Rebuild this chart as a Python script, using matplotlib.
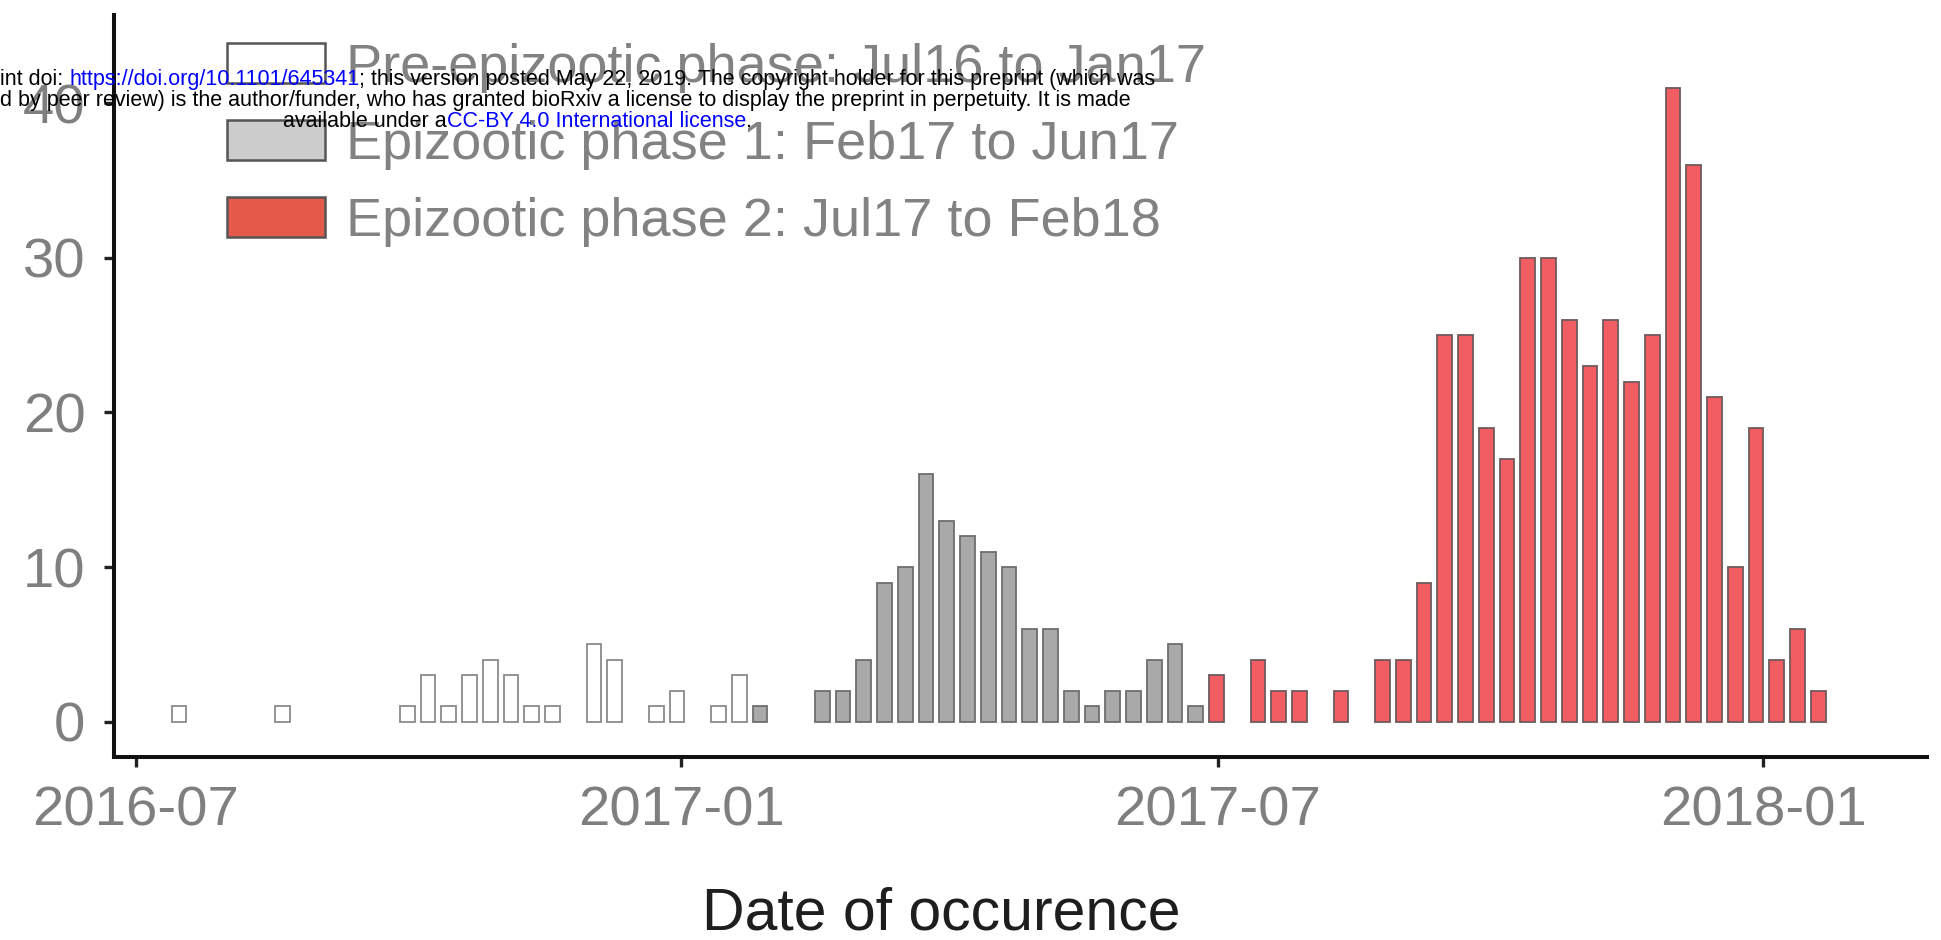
import numpy as np
import matplotlib
matplotlib.use("Agg")
import matplotlib.pyplot as plt
import matplotlib.dates as mdates
from matplotlib.patches import Patch

plt.rcParams['font.family'] = ['Liberation Sans', 'DejaVu Sans']

# ---- data: weekly case counts (week index counted from the bin centred on first_week) ----
first_week = "2016-07-15T12:00"
pre_weeks = [0, 5, 11, 12, 13, 14, 15, 16, 17, 18, 20, 21, 23, 24, 26, 27]
pre_counts = [1, 1, 1, 3, 1, 3, 4, 3, 1, 1, 5, 4, 1, 2, 1, 3]
p1_weeks = [28, 31, 32, 33, 34, 35, 36, 37, 38, 39, 40, 41, 42, 43, 44, 45, 46, 47, 48, 49]
p1_counts = [1, 2, 2, 4, 9, 10, 16, 13, 12, 11, 10, 6, 6, 2, 1, 2, 2, 4, 5, 1]
p2_weeks = [50, 52, 53, 54, 56, 58, 59, 60, 61, 62, 63, 64, 65, 66, 67, 68, 69, 70,
            71, 72, 73, 74, 75, 76, 77, 78, 79]
p2_counts = [3, 4, 2, 2, 2, 4, 4, 9, 25, 25, 19, 17, 30, 30, 26, 23, 26, 22,
             25, 41, 36, 21, 10, 19, 4, 6, 2]

legend_labels = ["Pre-epizootic phase: Jul16 to Jan17",
                 "Epizootic phase 1: Feb17 to Jun17",
                 "Epizootic phase 2: Jul17 to Feb18"]
x_ticks = ["2016-07-01", "2017-01-01", "2017-07-01", "2018-01-01"]
y_ticks = [0, 10, 20, 30, 40]
x_label = "Date of occurence"

# ---- figure ----
W, H, DPI = 1941, 940, 100
fig = plt.figure(figsize=(W / DPI, H / DPI), dpi=DPI)
fig.patch.set_facecolor('white')
ax = fig.add_axes([114 / W, 1 - 757.3 / H, (1926.7 - 114) / W, (757.3 - 15) / H])


def week_x(weeks):
    base = np.datetime64(first_week)
    d = base + np.array(weeks) * np.timedelta64(7, 'D')
    return mdates.date2num(d)


bar_w = 5.0
ax.bar(week_x(pre_weeks), pre_counts, width=bar_w, facecolor='white',
       edgecolor='#8a8a8a', linewidth=1.3, zorder=2)
ax.bar(week_x(p1_weeks), p1_counts, width=bar_w, facecolor='#a9a9a9',
       edgecolor='#6e6e6e', linewidth=1.3, zorder=2)
ax.bar(week_x(p2_weeks), p2_counts, width=bar_w, facecolor='#f25c63',
       edgecolor='#6e5a5a', linewidth=1.3, zorder=2)

x0 = mdates.date2num(np.datetime64("2016-07-01"))
x1 = mdates.date2num(np.datetime64("2018-01-01"))
ax.set_xlim(x0 - 7.4, x1 + 55.1)
ax.set_ylim(-2.3, 45.7)

ax.set_xticks(mdates.date2num(np.array(x_ticks, dtype='datetime64[D]')))
ax.xaxis.set_major_formatter(mdates.DateFormatter('%Y-%m'))
ax.set_yticks(y_ticks)

for s in ['top', 'right']:
    ax.spines[s].set_visible(False)
for s in ['left', 'bottom']:
    ax.spines[s].set_linewidth(2.9)
    ax.spines[s].set_color('#111111')

ax.tick_params(axis='both', length=7.5, width=2.4, color='#222222',
               labelsize=40.5, labelcolor='#7f7f7f')
ax.tick_params(axis='y', pad=13)
ax.tick_params(axis='x', pad=13)

fig.text(941 / W, 1 - 930 / H, x_label, ha='center', va='baseline',
         fontsize=42.4, color='#1e1e1e')

handles = [Patch(facecolor='white', edgecolor='#555555', linewidth=1.8),
           Patch(facecolor='#cccccc', edgecolor='#555555', linewidth=1.8),
           Patch(facecolor='#e65a4b', edgecolor='#555555', linewidth=1.8)]
ax.legend(handles, legend_labels, loc='upper left',
          bbox_to_anchor=(226.7 / W, 1 - 42.8 / H), bbox_transform=fig.transFigure,
          frameon=False, fontsize=39, handlelength=1.81, handleheight=0.756,
          handletextpad=0.4, labelspacing=0.5, borderpad=0, borderaxespad=0,
          labelcolor='#828282')

# ---- bioRxiv watermark overlay ----
wm_fs = 15.5
blue = '#0000ff'


def seq_text(x, y, parts):
    prev = fig.text(x, y, parts[0][0], color=parts[0][1], fontsize=wm_fs,
                    ha='left', va='baseline', zorder=20)
    for s, c in parts[1:]:
        prev = ax.annotate(s, xy=(1, 0), xycoords=prev, ha='left', va='bottom',
                           color=c, fontsize=wm_fs, zorder=20, annotation_clip=False)


seq_text(0, 1 - 85 / H, [("int doi: ", 'black'),
                         ("https://doi.org/10.1101/645341", blue),
                         ("; this version posted May 22, 2019. The copyright holder for this preprint (which was", 'black')])
seq_text(0, 1 - 106 / H, [("d by peer review) is the author/funder, who has granted bioRxiv a license to display the preprint in perpetuity. It is made", 'black')])
seq_text(283 / W, 1 - 127.3 / H, [("available under a", 'black'),
                                  ("CC-BY 4.0 International license", blue),
                                  (".", 'black')])

fig.savefig("out.png", dpi=DPI, facecolor='white')
